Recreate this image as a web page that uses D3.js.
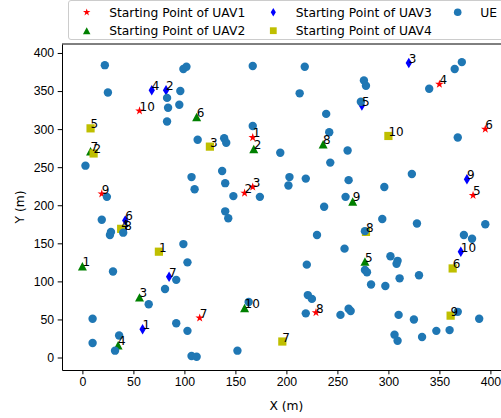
<!DOCTYPE html>
<html>
<head>
<meta charset="utf-8">
<style>
body { margin: 0; background: #fff; }
svg { font-family: "DejaVu Sans", sans-serif; }
.axis path, .axis line { stroke: #000; stroke-width: 1; }
.axis text { font-size: 12.3px; fill: #000; }
.lbl { font-size: 12px; fill: #000; }
</style>
</head>
<body>
<svg width="501" height="418"></svg>
<script src="https://d3js.org/d3.v7.min.js"></script>
<script>
  // user equipment positions (m)
  var ue = [[22,384],[25,348],[99,379],[102,382],[96,350],[83,341],[84,328],[95,332],[83,310],[113,286],
    [3,252],[167,383],[218,382],[213,347],[239,320],[167,304],[242,296],[139,288],[141,282],[194,269],
    [260,272],[243,256],[137,245],[276,364],[278,357],[273,336],[340,353],[365,379],[372,388],[368,289],
    [107,237],[110,221],[24,211],[19,181],[28,165],[27,161],[40,164],[99,149],[103,125],[30,113],
    [92,102],[81,90],[140,229],[148,212],[174,211],[140,192],[143,183],[203,237],[202,226],[219,235],
    [261,233],[258,211],[237,198],[230,161],[257,143],[220,122],[296,224],[323,241],[294,182],[328,176],
    [395,175],[277,166],[374,161],[382,156],[302,133],[309,127],[308,123],[277,115],[279,112],[311,104],
    [330,108],[283,96],[297,94],[65,70],[10,51],[36,29],[10,19],[32,9],[92,45],[103,35],
    [107,2],[112,1],[163,73],[152,9],[221,82],[225,77],[219,58],[253,56],[261,64],[263,61],
    [310,56],[325,50],[306,30],[309,22],[333,27],[347,35],[360,36],[368,60],[389,51]];

  // starting points, index i -> label i+1
  var uav1 = [[167,289],[159,216],[167,224],[350,359],[383,213],[395,300],[115,52],[229,59],[19,215],[56,324]];
  var uav2 = [[0,120],[168,274],[56,79],[35,16],[277,126],[112,316],[8,271],[236,280],[265,205],[159,65]];
  var uav3 = [[59,37],[82,351],[320,387],[68,351],[274,331],[42,180],[85,106],[41,168],[377,234],[371,139]];
  var uav4 = [[75,139],[11,268],[125,277],[38,169],[8,301],[363,117],[196,21],[278,165],[361,55],[300,291]];
  var pointLabels = ["1","2","3","4","5","6","7","8","9","10"];

  var xTicks = [0, 50, 100, 150, 200, 250, 300, 350, 400];
  var yTicks = [0, 50, 100, 150, 200, 250, 300, 350, 400];
  var legendNames = ["Starting Point of UAV1", "Starting Point of UAV2", "Starting Point of UAV3",
    "Starting Point of UAV4", "UE"];

  var svg = d3.select("svg");

  var x = d3.scaleLinear().domain([-20, 420]).range([62, 510.8]);
  var y = d3.scaleLinear().domain([-16.4, 411.8]).range([370, 44]);

  function star(R) {
    var pts = [];
    for (var i = 0; i < 10; i++) {
      var r = i % 2 ? R * 0.382 : R;
      var a = -Math.PI / 2 + i * Math.PI / 5;
      pts.push([r * Math.cos(a), r * Math.sin(a)]);
    }
    return "M" + pts.join("L") + "Z";
  }
  function tri(s) { return "M0," + (-s * 0.47) + "L" + (s * 0.5) + "," + (s * 0.47) + "L" + (-s * 0.5) + "," + (s * 0.47) + "Z"; }
  function diam(s) { return "M0," + (-s * 0.5) + "L" + (s * 0.3) + ",0L0," + (s * 0.5) + "L" + (-s * 0.3) + ",0Z"; }
  function sq(s) { return "M" + (-s / 2) + "," + (-s / 2) + "h" + s + "v" + s + "h" + (-s) + "Z"; }
  function circ(r) { return "M" + r + ",0A" + r + "," + r + " 0 1,1 " + (-r) + ",0A" + r + "," + r + " 0 1,1 " + r + ",0Z"; }

  var series = [
    { data: uav1, d: star(4.5), color: "#ff0000", leg: star(3.9) },
    { data: uav2, d: tri(9), color: "#008000", leg: tri(7.5) },
    { data: uav3, d: diam(10.5), color: "#0000ff", leg: diam(8.5) },
    { data: uav4, d: sq(8.2), color: "#bfbf00", leg: sq(6.8) },
    { data: ue, d: circ(4.2), color: "#1f77b4", leg: circ(3.8) }
  ];

  // axes
  svg.append("g").attr("class", "axis")
    .attr("transform", "translate(0,370)")
    .call(d3.axisBottom(x).tickValues(xTicks).tickSize(4.3).tickPadding(2.5).tickSizeOuter(0));
  svg.append("g").attr("class", "axis")
    .attr("transform", "translate(62,0)")
    .call(d3.axisLeft(y).tickValues(yTicks).tickSize(4.3).tickPadding(3.5).tickSizeOuter(0));
  svg.append("line").attr("x1", 62).attr("x2", 510.8).attr("y1", 44).attr("y2", 44).attr("stroke", "#000");

  svg.append("text").attr("x", 286.4).attr("y", 409.5).attr("text-anchor", "middle")
    .style("font-size", "12.3px").text("X (m)");
  svg.append("text").attr("transform", "translate(24,207) rotate(-90)").attr("text-anchor", "middle")
    .style("font-size", "12.3px").text("Y (m)");

  // markers
  series.forEach(function(s) {
    svg.append("g").selectAll("path").data(s.data).enter().append("path")
      .attr("d", s.d)
      .attr("fill", s.color)
      .attr("transform", function(p) { return "translate(" + x(p[0]) + "," + y(p[1]) + ")"; });
  });

  // labels
  [uav1, uav2, uav3, uav4].forEach(function(arr) {
    svg.append("g").selectAll("text").data(arr).enter().append("text")
      .attr("class", "lbl")
      .attr("x", function(p) { return x(p[0]); })
      .attr("y", function(p) { return y(p[1]); })
      .text(function(p, i) { return pointLabels[i]; });
  });

  // legend
  var leg = svg.append("g");
  leg.append("rect").attr("x", 68.5).attr("y", 0.5).attr("width", 460).attr("height", 39)
    .attr("rx", 2.5).attr("fill", "#fff").attr("fill-opacity", 0.8).attr("stroke", "#cccccc");
  var legPos = [[86.7, 12.3], [86.7, 30.7], [273.3, 12.3], [273.3, 30.7], [457.7, 12.3]];
  series.forEach(function(s, i) {
    var p = legPos[i];
    leg.append("path").attr("d", s.leg).attr("fill", s.color)
      .attr("transform", "translate(" + p[0] + "," + p[1] + ")");
    leg.append("text").attr("x", p[0] + 22.5).attr("y", p[1] + 4.4)
      .style("font-size", "12.3px").text(legendNames[i]);
  });
</script>
</body>
</html>
